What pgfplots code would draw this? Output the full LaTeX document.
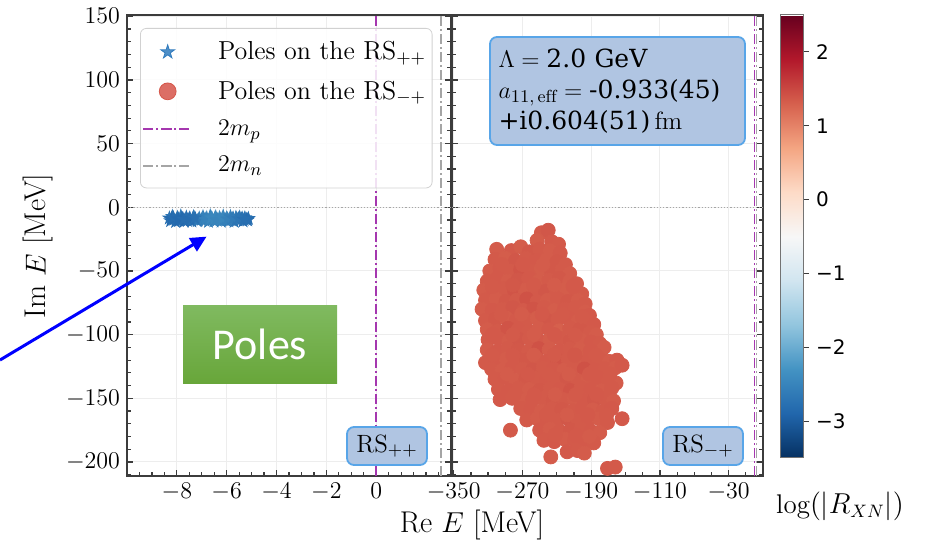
\documentclass[border=0pt]{standalone}
\usepackage{pgfplots}
\pgfplotsset{compat=1.18}
\usepackage{fontspec}
\usetikzlibrary{arrows.meta}
\newfontfamily\dvserif{DejaVu Serif}
\newfontfamily\dvsans{DejaVu Sans}
\newfontfamily\carlito{Carlito}

\definecolor{polered}{RGB}{214,86,74}
\definecolor{poleblue}{RGB}{49,124,190}
\definecolor{thrp}{RGB}{165,55,175}
\definecolor{thrn}{RGB}{165,165,165}
\definecolor{boxfill}{RGB}{176,197,226}
\definecolor{boxedge}{RGB}{88,165,232}
\definecolor{spine}{RGB}{60,60,60}

% filled five-pointed star marker
\pgfdeclareplotmark{fstar}{%
  \pgfpathmoveto{\pgfpointpolar{90}{\pgfplotmarksize}}%
  \pgfpathlineto{\pgfpointpolar{126}{0.382\pgfplotmarksize}}%
  \pgfpathlineto{\pgfpointpolar{162}{\pgfplotmarksize}}%
  \pgfpathlineto{\pgfpointpolar{198}{0.382\pgfplotmarksize}}%
  \pgfpathlineto{\pgfpointpolar{234}{\pgfplotmarksize}}%
  \pgfpathlineto{\pgfpointpolar{270}{0.382\pgfplotmarksize}}%
  \pgfpathlineto{\pgfpointpolar{306}{\pgfplotmarksize}}%
  \pgfpathlineto{\pgfpointpolar{342}{0.382\pgfplotmarksize}}%
  \pgfpathlineto{\pgfpointpolar{18}{\pgfplotmarksize}}%
  \pgfpathlineto{\pgfpointpolar{54}{0.382\pgfplotmarksize}}%
  \pgfpathclose
  \pgfusepathqfillstroke
}

\tikzset{
  thrline/.style={line width=0.8pt, dash pattern=on 5pt off 1.5pt on 1pt off 1.5pt},
  rsbox/.style={draw=boxedge, fill=boxfill, line width=0.9pt, rounded corners=3.5pt},
}

\pgfplotsset{
  colormap={rdbur}{rgb255=(5,48,97) rgb255=(33,102,172) rgb255=(67,147,195)
    rgb255=(146,197,222) rgb255=(209,229,240) rgb255=(247,247,247)
    rgb255=(253,219,199) rgb255=(244,165,130) rgb255=(214,96,77)
    rgb255=(178,24,43) rgb255=(103,0,31)},
  panel/.style={
    scale only axis, anchor=south west, height=230.5pt,
    ymin=-211, ymax=151,
    ytick={-200,-150,...,150},
    minor ytick={-210,-200,...,150},
    xtick pos=lower, ytick pos=both,
    tick align=inside,
    major tick length=3.2pt, minor tick length=1.8pt,
    tick style={spine, line width=0.6pt},
    axis line style={spine, line width=0.8pt},
    grid=major, major grid style={black!7, line width=0.5pt},
    tick label style={font=\fontsize{13}{15}\selectfont},
    colormap name=rdbur, point meta min=-3.5, point meta max=2.5,
  },
}

\begin{document}
\begin{tikzpicture}
\useasboundingbox (0,0) rectangle (467.5pt,271pt);

% ---------- left panel: second sheet RS_{++} ----------
\begin{axis}[panel, at={(63.5pt,33pt)}, width=162pt,
  xmin=-10, xmax=3,
  xtick={-8,-6,-4,-2,0}, minor xtick={-9.5,-9,...,2.5},
  legend style={at={(0,1)}, anchor=north west, xshift=6.5pt, yshift=-6.5pt,
    draw=black!18, rounded corners=3pt, fill=white, fill opacity=0.85,
    text opacity=1, font=\fontsize{13}{15}\selectfont, row sep=5pt,
    inner xsep=1pt, inner ysep=4.5pt, legend cell align=left,
    /tikz/every odd column/.append style={column sep=10.5pt}},
  legend image code/.code={\draw[mark repeat=2,mark phase=2,#1]
    plot coordinates {(0pt,0pt) (12.25pt,0pt) (24.5pt,0pt)};},
]
\addplot[forget plot, gray!70, densely dotted, line width=0.6pt] coordinates {(-10,0) (3,0)};
\addplot[forget plot, color=thrp, thrline] coordinates {(0,-211) (0,151)};
\addplot[forget plot, color=thrn, thrline] coordinates {(2.59,-211) (2.59,151)};
\addplot[forget plot, scatter, only marks, mark=fstar, mark size=3.3pt,
  point meta=explicit,
  scatter/use mapped color={draw=mapped color, fill=mapped color}]
  table[meta index=2] {
x y c
-8.30 -8.5 -2.75
-8.25 -10.6 -2.80
-8.18 -7.2 -2.70
-8.12 -9.4 -2.85
-8.05 -11.3 -2.78
-7.98 -8.0 -2.72
-7.90 -10.2 -2.88
-7.84 -6.9 -2.66
-7.77 -9.0 -2.82
-7.70 -11.0 -2.90
-7.62 -7.8 -2.76
-7.55 -9.8 -2.86
-7.48 -8.4 -2.70
-7.40 -10.9 -2.84
-7.33 -7.5 -2.62
-7.25 -9.3 -2.80
-7.18 -10.6 -2.74
-7.10 -8.6 -2.58
-7.02 -9.6 -2.60
-6.95 -7.4 -2.52
-6.88 -10.2 -2.56
-6.80 -8.3 -2.48
-6.73 -11.2 -2.60
-6.66 -6.8 -2.50
-6.58 -9.2 -2.44
-6.51 -10.8 -2.55
-6.44 -7.6 -2.46
-6.36 -9.7 -2.50
-6.29 -8.1 -2.42
-6.22 -11.0 -2.58
-6.14 -7.0 -2.48
-6.07 -9.5 -2.52
-6.00 -8.4 -2.46
-5.92 -10.7 -2.62
-5.85 -7.3 -2.55
-5.78 -9.0 -2.64
-5.70 -11.2 -2.70
-5.63 -8.0 -2.60
-5.56 -10.0 -2.72
-5.48 -7.8 -2.66
-5.41 -9.4 -2.76
-5.34 -10.8 -2.80
-5.27 -8.3 -2.70
-5.20 -9.6 -2.82
-5.13 -8.8 -2.78
-8.22 -9.0 -2.86
-8.00 -9.9 -2.80
-7.80 -8.6 -2.84
-7.58 -10.4 -2.78
-7.36 -9.0 -2.74
-7.14 -10.0 -2.66
-6.92 -9.0 -2.54
-6.70 -9.6 -2.50
-6.48 -8.8 -2.45
-6.26 -9.4 -2.48
-6.04 -10.2 -2.56
-5.82 -9.8 -2.60
-5.60 -9.2 -2.68
-5.38 -8.6 -2.74
-5.16 -10.0 -2.80
-8.14 -8.2 -2.82
-7.94 -9.3 -2.86
-7.72 -9.5 -2.80
-7.50 -9.1 -2.82
-7.28 -8.4 -2.76
-6.84 -9.4 -2.52
-6.62 -8.2 -2.46
-6.40 -10.0 -2.50
-6.18 -8.8 -2.47
-5.96 -9.2 -2.55
-5.74 -8.6 -2.62
-5.52 -9.0 -2.70
-5.30 -9.5 -2.78
};
\addlegendimage{only marks, mark=fstar, mark size=3.6pt, color=poleblue}
\addlegendentry{Poles on the $\mathrm{RS}_{++}$}
\addlegendimage{only marks, mark=*, mark size=4.2pt, color=polered}
\addlegendentry{Poles on the $\mathrm{RS}_{-+}$}
\addlegendimage{color=thrp, thrline}
\addlegendentry{$2m_p$}
\addlegendimage{color=thrn, thrline}
\addlegendentry{$2m_n$}
\end{axis}

% ---------- right panel: third sheet RS_{-+} ----------
\begin{axis}[panel, at={(226pt,33pt)}, width=155.5pt,
  xmin=-352, xmax=10,
  xtick={-350,-270,-190,-110,-30}, minor xtick={-350,-330,...,10},
  yticklabels={},
  colorbar,
  colorbar style={
    scale only axis,
    at={([xshift=10pt]parent axis.north east)}, anchor=north west,
    width=11.5pt, height=221.5pt,
    ytick={-3,-2,-1,0,1,2},
    yticklabels={−3,−2,−1,0,1,2},
    yticklabel style={font=\dvsans\fontsize{10}{12}\selectfont},
    ytick pos=right, yticklabel pos=right,
    tick align=outside, major tick length=3pt,
    tick style={spine, line width=0.5pt},
    axis line style={black!55, line width=0.5pt},
    grid=none,
  },
]
\addplot[forget plot, gray!70, densely dotted, line width=0.6pt] coordinates {(-352,0) (10,0)};
\addplot[forget plot, color=thrp, thrline] coordinates {(0,-211) (0,151)};
\addplot[forget plot, color=thrn, thrline] coordinates {(2.59,-211) (2.59,151)};
\addplot[forget plot, scatter, only marks, mark=*, mark size=3.5pt,
  point meta=explicit,
  scatter/use mapped color={draw=mapped color, fill=mapped color}]
  table[meta index=2] {
x y c
-248 -20 1.35
-240 -18 1.38
-253 -26 1.33
-236 -27 1.36
-228 -29 1.35
-300 -33 1.34
-283 -34 1.36
-272 -31 1.33
-262 -35 1.37
-250 -33 1.35
-238 -34 1.34
-226 -36 1.36
-302 -41 1.35
-290 -40 1.33
-278 -42 1.38
-266 -40 1.35
-254 -42 1.36
-242 -41 1.34
-230 -43 1.37
-220 -45 1.35
-308 -50 1.34
-296 -48 1.36
-284 -50 1.35
-272 -49 1.40
-260 -50 1.35
-248 -48 1.33
-236 -50 1.37
-224 -49 1.35
-215 -52 1.34
-311 -58 1.35
-299 -56 1.36
-287 -58 1.34
-275 -57 1.38
-263 -56 1.36
-251 -58 1.33
-239 -57 1.35
-227 -56 1.37
-215 -58 1.34
-207 -60 1.35
-315 -65 1.34
-303 -66 1.36
-291 -64 1.35
-279 -66 1.40
-267 -65 1.34
-255 -64 1.36
-243 -66 1.38
-231 -65 1.35
-219 -64 1.33
-207 -66 1.36
-201 -68 1.35
-313 -73 1.35
-301 -72 1.34
-289 -74 1.37
-277 -73 1.35
-265 -72 1.42
-253 -74 1.36
-241 -73 1.34
-229 -72 1.35
-217 -74 1.37
-205 -73 1.34
-197 -76 1.35
-317 -80 1.34
-305 -81 1.36
-293 -80 1.35
-281 -79 1.38
-269 -81 1.36
-257 -80 1.40
-245 -79 1.35
-233 -81 1.33
-221 -80 1.36
-209 -79 1.35
-197 -82 1.34
-192 -85 1.36
-313 -89 1.35
-301 -88 1.37
-289 -87 1.34
-277 -89 1.36
-265 -88 1.35
-253 -87 1.33
-241 -89 1.38
-229 -88 1.35
-217 -87 1.36
-205 -89 1.34
-193 -90 1.35
-187 -92 1.36
-311 -96 1.34
-299 -97 1.35
-287 -95 1.40
-275 -96 1.36
-263 -97 1.35
-251 -95 1.34
-239 -96 1.36
-227 -97 1.30
-215 -95 1.35
-203 -96 1.37
-191 -98 1.35
-184 -100 1.34
-310 -104 1.35
-298 -103 1.36
-286 -105 1.34
-274 -104 1.38
-262 -103 1.35
-250 -105 1.36
-238 -104 1.33
-226 -103 1.35
-214 -105 1.37
-202 -104 1.34
-190 -106 1.36
-180 -107 1.35
-311 -112 1.34
-299 -113 1.36
-287 -111 1.35
-275 -112 1.37
-263 -113 1.35
-251 -111 1.42
-239 -112 1.34
-227 -113 1.36
-215 -111 1.35
-203 -112 1.33
-191 -113 1.36
-179 -114 1.35
-175 -110 1.34
-313 -122 1.35
-301 -120 1.36
-289 -119 1.34
-277 -121 1.35
-265 -120 1.37
-253 -119 1.35
-241 -121 1.36
-229 -120 1.40
-217 -119 1.35
-205 -121 1.34
-193 -120 1.36
-181 -119 1.35
-169 -121 1.34
-160 -120 1.36
-306 -127 1.35
-294 -128 1.34
-282 -126 1.36
-270 -127 1.35
-258 -128 1.38
-246 -126 1.35
-234 -127 1.36
-222 -128 1.34
-210 -126 1.35
-198 -127 1.42
-186 -128 1.36
-174 -127 1.35
-162 -126 1.34
-154 -124 1.36
-302 -135 1.35
-290 -134 1.36
-278 -136 1.34
-266 -135 1.37
-254 -134 1.35
-242 -136 1.36
-230 -135 1.35
-218 -134 1.38
-206 -136 1.35
-194 -135 1.34
-182 -134 1.36
-170 -136 1.35
-161 -138 1.34
-298 -143 1.35
-286 -144 1.36
-274 -142 1.35
-262 -143 1.34
-250 -144 1.37
-238 -142 1.35
-226 -143 1.36
-214 -144 1.40
-202 -142 1.35
-190 -143 1.36
-178 -144 1.34
-166 -142 1.35
-296 -151 1.36
-282 -150 1.35
-270 -152 1.34
-258 -151 1.36
-246 -150 1.35
-234 -152 1.37
-222 -151 1.35
-210 -150 1.34
-198 -152 1.36
-186 -151 1.38
-174 -150 1.35
-164 -152 1.34
-272 -158 1.35
-260 -159 1.36
-248 -160 1.34
-236 -158 1.35
-224 -159 1.37
-212 -160 1.35
-200 -158 1.36
-188 -159 1.34
-176 -160 1.35
-166 -158 1.36
-265 -167 1.35
-253 -166 1.34
-241 -168 1.36
-229 -167 1.35
-217 -166 1.38
-205 -168 1.35
-193 -167 1.36
-181 -166 1.34
-171 -169 1.35
-154 -166 1.36
-284 -175 1.35
-250 -175 1.36
-238 -174 1.34
-226 -176 1.35
-214 -175 1.37
-202 -174 1.35
-190 -176 1.36
-180 -177 1.34
-245 -183 1.35
-233 -184 1.36
-221 -182 1.34
-209 -183 1.35
-197 -184 1.36
-187 -185 1.35
-237 -196 1.34
-218 -192 1.36
-206 -191 1.35
-198 -193 1.34
-171 -205 1.36
-162 -204 1.35
-294 -45 1.35
-270 -45 1.36
-246 -45 1.34
-305 -62 1.35
-281 -61 1.37
-257 -61 1.35
-233 -61 1.34
-211 -62 1.36
-295 -84 1.35
-271 -84 1.34
-247 -84 1.36
-223 -84 1.35
-200 -86 1.35
-305 -100 1.36
-281 -100 1.35
-257 -100 1.34
-233 -100 1.36
-209 -100 1.35
-305 -116 1.35
-281 -116 1.36
-257 -116 1.34
-233 -116 1.35
-209 -116 1.37
-185 -116 1.35
-288 -131 1.34
-264 -131 1.36
-240 -131 1.35
-216 -131 1.34
-192 -131 1.36
-168 -131 1.35
-280 -147 1.35
-256 -147 1.36
-232 -147 1.34
-208 -147 1.35
-184 -147 1.36
-242 -163 1.35
-218 -163 1.34
-194 -163 1.36
-172 -163 1.35
-232 -179 1.35
-208 -179 1.36
-192 -180 1.34
};
\end{axis}

% axis titles and colour-bar label
\node[rotate=90, font=\fontsize{15}{18}\selectfont] at (19pt,148pt) {Im $E$ [MeV]};
\node[font=\fontsize{15}{18}\selectfont] at (236pt,8.5pt) {Re $E$ [MeV]};
\node[font=\fontsize{13.5}{16}\selectfont] at (420pt,18pt) {$\log(|R_{XN}|)$};

% parameter box and sheet tags
\node[rsbox, text width=119pt, inner xsep=4.25pt, minimum height=54pt, align=left,
  font=\fontsize{12.5}{15.5}\selectfont] at (308.75pt,225.5pt)
  {$\Lambda ={}${\dvserif 2.0 GeV}\\
   $a_{11,\,\mathrm{eff}} ={}${\dvserif -0.933(45)}\\
   {\dvserif +i0.604(51)}\,$\mathrm{fm}$};
\node[rsbox, minimum width=40pt, minimum height=19pt, inner sep=0pt,
  font=\fontsize{12.5}{15}\selectfont] at (193.5pt,48pt) {$\mathrm{RS}_{++}$};
\node[rsbox, minimum width=40pt, minimum height=19pt, inner sep=0pt,
  font=\fontsize{12.5}{15}\selectfont] at (351.5pt,48pt) {$\mathrm{RS}_{-+}$};

% call-out
\node[top color={rgb,255:red,128;green,186;blue,96}, bottom color={rgb,255:red,104;green,166;blue,58},
  minimum width=77pt, minimum height=39pt, inner sep=0pt, text=white,
  font=\carlito\fontsize{22}{26}\selectfont] at (130pt,99pt) {Poles};
\draw[blue, line width=1.5pt, -{Triangle[length=8pt,width=7.5pt]}] (0pt,91pt) -- (103.3pt,152.7pt);
\end{tikzpicture}
\end{document}
